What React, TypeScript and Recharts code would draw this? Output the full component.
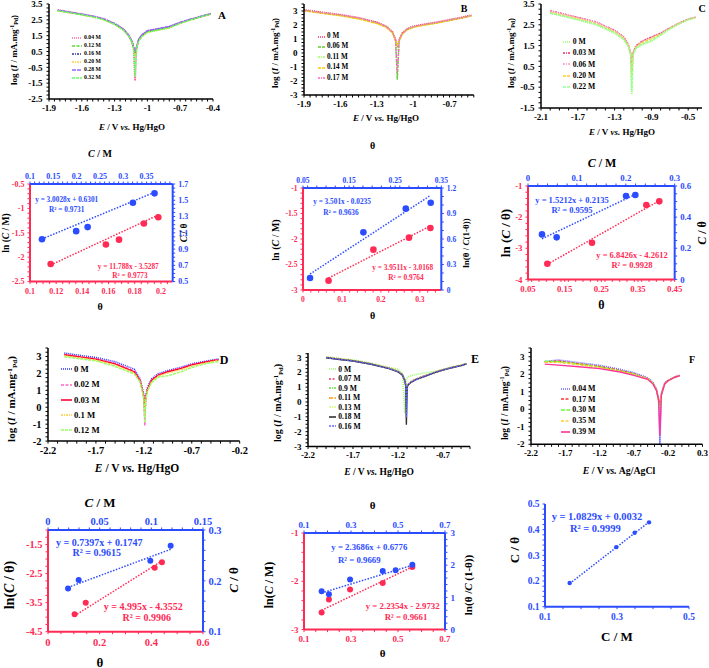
import React from 'react';
import { LineChart, Line, XAxis, YAxis } from 'recharts';

const serif = '"Liberation Serif", "Times New Roman", serif';
const RED = '#ff2b55';
const BLUE = '#2b4cff';

// ---------- Tafel plots (log I vs E) ----------
const tafA_E = [-1.82, -1.7, -1.6, -1.5, -1.4, -1.3, -1.22, -1.17, -1.14, -1.125, -1.113, -1.1, -1.08, -1.05, -1.0, -0.9, -0.8, -0.7, -0.6, -0.5, -0.42];
const tafA_004 = [3.12, 2.98, 2.86, 2.73, 2.56, 2.26, 1.91, 1.52, 1.12, 0.72, -1.35, 0.75, 1.25, 1.55, 1.8, 1.93, 2.06, 2.33, 2.54, 2.73, 2.88];
const tafA_012 = [3.08, 2.95, 2.83, 2.7, 2.52, 2.22, 1.87, 1.48, 1.08, 0.68, 0.3, 0.7, 1.18, 1.48, 1.74, 1.88, 2.02, 2.3, 2.52, 2.72, 2.86];
const tafA_016 = [3.1, 2.96, 2.85, 2.72, 2.55, 2.25, 1.9, 1.5, 1.1, 0.7, 0.45, 0.72, 1.22, 1.52, 1.78, 1.92, 2.05, 2.32, 2.53, 2.72, 2.87];
const tafA_020 = [3.06, 2.93, 2.81, 2.68, 2.5, 2.2, 1.85, 1.46, 1.06, 0.66, 0.2, 0.66, 1.15, 1.45, 1.7, 1.84, 1.98, 2.27, 2.5, 2.7, 2.85];
const tafA_028 = [3.11, 2.97, 2.86, 2.73, 2.57, 2.27, 1.92, 1.53, 1.13, 0.74, 0.6, 0.76, 1.26, 1.56, 1.82, 1.95, 2.08, 2.34, 2.55, 2.74, 2.89];
const tafA_032 = [3.07, 2.94, 2.82, 2.69, 2.51, 2.21, 1.86, 1.47, 1.07, 0.67, -1.1, 0.68, 1.16, 1.46, 1.72, 1.86, 2.0, 2.28, 2.51, 2.71, 2.86];

const tafB_E = [-1.9, -1.75, -1.6, -1.45, -1.3, -1.22, -1.17, -1.145, -1.131, -1.115, -1.09, -1.05, -1.0, -0.9, -0.8, -0.7, -0.6, -0.52];
const tafB_0 = [3.08, 2.9, 2.74, 2.52, 2.2, 1.9, 1.5, 0.95, 0.4, 0.95, 1.42, 1.72, 1.9, 2.07, 2.21, 2.38, 2.54, 2.7];
const tafB_006 = [3.05, 2.86, 2.7, 2.47, 2.15, 1.86, 1.46, 0.9, -1.9, 0.9, 1.38, 1.68, 1.86, 2.03, 2.17, 2.35, 2.51, 2.67];
const tafB_011 = [3.04, 2.85, 2.68, 2.45, 2.13, 1.84, 1.44, 0.88, 0.2, 0.88, 1.36, 1.66, 1.84, 2.01, 2.15, 2.33, 2.5, 2.66];
const tafB_014 = [3.02, 2.83, 2.66, 2.43, 2.11, 1.82, 1.42, 0.86, 0.6, 0.86, 1.34, 1.64, 1.83, 2.0, 2.14, 2.32, 2.49, 2.65];
const tafB_017 = [3.06, 2.88, 2.72, 2.5, 2.18, 1.88, 1.48, 0.92, -1.4, 0.92, 1.4, 1.7, 1.88, 2.05, 2.19, 2.36, 2.52, 2.68];

const tafC_E = [-2.0, -1.85, -1.7, -1.5, -1.3, -1.2, -1.15, -1.125, -1.114, -1.1, -1.07, -1.0, -0.9, -0.8, -0.7, -0.6, -0.5, -0.42];
const tafC_0 = [3.05, 2.9, 2.74, 2.5, 2.1, 1.78, 1.45, 1.05, -0.85, 1.05, 1.35, 1.55, 1.7, 2.0, 2.3, 2.55, 2.75, 2.85];
const tafC_003 = [3.18, 3.02, 2.86, 2.64, 2.24, 1.92, 1.55, 1.15, 0.3, 1.15, 1.48, 1.72, 1.92, 2.1, 2.35, 2.58, 2.77, 2.87];
const tafC_006 = [3.15, 3.0, 2.84, 2.62, 2.22, 1.9, 1.53, 1.12, 0.5, 1.12, 1.46, 1.7, 1.9, 2.09, 2.34, 2.57, 2.76, 2.86];
const tafC_020 = [3.1, 2.95, 2.79, 2.56, 2.16, 1.84, 1.49, 1.08, 0.1, 1.08, 1.42, 1.64, 1.84, 2.05, 2.32, 2.56, 2.75, 2.85];
const tafC_022 = [3.07, 2.92, 2.76, 2.53, 2.13, 1.81, 1.47, 1.06, -0.7, 1.06, 1.38, 1.58, 1.76, 2.02, 2.31, 2.55, 2.75, 2.85];

const tafD_E = [-2.03, -1.85, -1.7, -1.5, -1.3, -1.24, -1.215, -1.2, -1.19, -1.18, -1.16, -1.12, -1.05, -0.95, -0.81, -0.7, -0.57, -0.47, -0.42];
const tafD_0 = [3.2, 3.05, 2.94, 2.69, 2.25, 1.7, 1.1, 0.7, -0.6, 0.7, 1.2, 1.68, 1.98, 2.17, 2.37, 2.57, 2.7, 2.81, 2.85];
const tafD_002 = [3.12, 2.98, 2.87, 2.6, 2.15, 1.62, 1.02, 0.62, -1.1, 0.62, 1.12, 1.6, 1.92, 2.12, 2.33, 2.53, 2.67, 2.78, 2.82];
const tafD_003 = [3.1, 2.96, 2.84, 2.56, 2.1, 1.58, 0.98, 0.58, 0.0, 0.58, 1.08, 1.58, 1.9, 2.1, 2.3, 2.5, 2.66, 2.77, 2.8];
const tafD_01 = [3.05, 2.9, 2.78, 2.48, 2.02, 1.52, 0.92, 0.52, -0.5, 0.52, 1.02, 1.5, 1.84, 2.02, 2.22, 2.42, 2.6, 2.72, 2.76];
const tafD_012 = [2.98, 2.85, 2.74, 2.41, 1.96, 1.5, 0.9, 0.5, -0.9, 0.5, 0.98, 1.45, 1.78, 1.86, 2.09, 2.35, 2.55, 2.66, 2.69];

const tafE_E = [-2.0, -1.85, -1.7, -1.5, -1.3, -1.2, -1.15, -1.125, -1.115, -1.107, -1.098, -1.085, -1.05, -1.0, -0.9, -0.8, -0.7, -0.6, -0.5, -0.44];
const tafE_0 = [3.05, 2.93, 2.84, 2.62, 2.33, 2.21, 1.95, -0.75, 1.2, 1.5, 1.62, 1.7, 1.78, 1.85, 1.96, 2.05, 2.2, 2.36, 2.49, 2.6];
const tafE_007 = [3.02, 2.9, 2.8, 2.58, 2.29, 2.08, 1.85, 1.5, 1.2, 0.3, 1.1, 1.22, 1.4, 1.56, 1.78, 2.0, 2.18, 2.34, 2.47, 2.58];
const tafE_09 = [3.0, 2.88, 2.78, 2.56, 2.27, 2.06, 1.83, 1.48, 1.18, 0.1, 1.08, 1.2, 1.38, 1.54, 1.76, 1.98, 2.17, 2.33, 2.46, 2.57];
const tafE_011 = [3.0, 2.88, 2.78, 2.56, 2.27, 2.05, 1.82, 1.46, 1.16, 0.4, 1.06, 1.18, 1.36, 1.52, 1.74, 1.97, 2.16, 2.32, 2.46, 2.57];
const tafE_013 = [3.01, 2.89, 2.79, 2.57, 2.28, 2.06, 1.83, 1.47, 1.17, 0.2, 1.07, 1.19, 1.37, 1.53, 1.75, 1.98, 2.17, 2.33, 2.46, 2.57];
const tafE_018 = [2.98, 2.86, 2.76, 2.54, 2.25, 2.03, 1.8, 1.44, 1.14, -1.54, 1.04, 1.16, 1.34, 1.5, 1.73, 1.96, 2.15, 2.31, 2.45, 2.56];
const tafE_016 = [2.99, 2.87, 2.77, 2.55, 2.26, 2.04, 1.81, 1.45, 1.15, -1.05, 1.05, 1.17, 1.35, 1.51, 1.74, 1.97, 2.16, 2.32, 2.45, 2.56];

const tafF_E = [-2.0, -1.8, -1.5, -1.2, -0.9, -0.7, -0.5, -0.42, -0.37, -0.34, -0.321, -0.3, -0.25, -0.2, -0.1, -0.03];
const tafF_004 = [2.72, 2.82, 2.66, 2.51, 2.28, 2.09, 1.8, 1.52, 1.14, 0.6, -2.0, 0.9, 1.5, 1.67, 1.86, 1.95];
const tafF_017 = [2.7, 2.76, 2.6, 2.45, 2.22, 2.03, 1.76, 1.48, 1.1, 0.55, 0.3, 0.85, 1.48, 1.65, 1.85, 1.94];
const tafF_030 = [2.74, 2.72, 2.58, 2.42, 2.2, 2.01, 1.75, 1.47, 1.09, 0.54, 0.0, 0.84, 1.47, 1.64, 1.84, 1.93];
const tafF_035 = [2.68, 2.68, 2.54, 2.38, 2.17, 1.98, 1.73, 1.46, 1.08, 0.53, 0.5, 0.83, 1.46, 1.64, 1.84, 1.93];
const tafF_039 = [2.58, 2.52, 2.43, 2.32, 2.13, 1.94, 1.71, 1.44, 1.06, 0.52, -1.5, 0.82, 1.45, 1.63, 1.83, 1.92];

// ---------- isotherm fits ----------
const isoA_redX = [0.1158, 0.158, 0.168, 0.187, 0.198];
const isoA_redY = [-2.14, -1.74, -1.64, -1.31, -1.18];
const isoA_blueX = [0.1257, 0.199, 0.2236, 0.3207, 0.367];
const isoA_blueY = [1.02, 1.12, 1.17, 1.47, 1.585];
const isoA_redFitX = [0.1158, 0.198];
const isoA_redFitY = [-2.16, -1.135];
const isoA_blueFitX = [0.1257, 0.367];
const isoA_blueFitY = [1.024, 1.598];

const isoB_redX = [0.0656, 0.1807, 0.272, 0.327];
const isoB_redY = [-2.817, -2.209, -1.974, -1.784];
const isoB_blueX = [0.0653, 0.181, 0.273, 0.327];
const isoB_blueY = [0.141, 0.678, 0.957, 1.027];
const isoB_redFitX = [0.0656, 0.327];
const isoB_redFitY = [-2.765, -1.745];
const isoB_blueFitX = [0.0653, 0.327];
const isoB_blueFitY = [0.188, 1.114];

const isoC_redX = [0.1027, 0.2245, 0.3727, 0.408];
const isoC_redY = [-3.496, -2.821, -1.611, -1.493];
const isoC_blueX = [0.0286, 0.0586, 0.2005, 0.2195];
const isoC_blueY = [0.289, 0.27, 0.536, 0.542];
const isoC_redFitX = [0.1027, 0.408];
const isoC_redFitY = [-3.518, -1.471];
const isoC_blueFitX = [0.0286, 0.2195];
const isoC_blueFitY = [0.261, 0.546];

const isoD_redX = [0.103, 0.146, 0.413, 0.441];
const isoD_redY = [-3.903, -3.502, -2.297, -2.113];
const isoD_blueX = [0.0194, 0.0297, 0.099, 0.1187];
const isoD_blueY = [0.185, 0.2016, 0.2397, 0.269];
const isoD_redFitX = [0.103, 0.441];
const isoD_redFitY = [-3.95, -2.067];
const isoD_blueFitX = [0.0194, 0.1187];
const isoD_blueFitY = [0.187, 0.262];

const isoE_redX = [0.175, 0.206, 0.296, 0.435, 0.561];
const isoE_redY = [-2.648, -2.379, -2.172, -2.034, -1.703];
const isoE_blueX = [0.175, 0.206, 0.296, 0.435, 0.49, 0.561];
const isoE_blueY = [1.19, 1.097, 1.552, 1.821, 1.841, 2.017];
const isoE_redFitX = [0.175, 0.561];
const isoE_redFitY = [-2.6, -1.703];
const isoE_blueFitX = [0.175, 0.561];
const isoE_blueFitY = [1.138, 1.997];

const isoF_X = [0.1685, 0.298, 0.349, 0.389];
const isoF_Y = [0.192, 0.332, 0.388, 0.4286];
const isoF_fitX = [0.1685, 0.389];
const isoF_fitY = [0.19, 0.43];

type Series = { name: string; vals: number[]; color: string; dash?: string; width?: number };
type Box = { x0: number; y0: number; x1: number; y1: number };
type Ax = { domain: [number, number]; ticks: number[]; minor?: number };

const pts = (xs: number[], ys: number[]) => xs.map((x, i) => ({ x, y: ys[i] }));

// major ticks get a label, minor ones are only small marks on the axis
const axisTicks = (ax: Ax) => {
  const all = [...ax.ticks];
  if (ax.minor) {
    const s = ax.minor;
    for (let v = Math.ceil(ax.domain[0] / s - 1e-9) * s; v <= ax.domain[1] + 1e-9; v += s) {
      const r = +v.toFixed(6);
      if (!all.some((m) => Math.abs(m - r) < 1e-7)) all.push(r);
    }
  }
  return all.sort((a, b) => a - b);
};
const majorFmt = (ax: Ax) => (v: number) => (ax.ticks.some((m) => Math.abs(m - v) < 1e-7) ? String(v) : '');

const Txt = ({ x, y, size, color = '#000', rot = false, children }: any) => (
  <div
    style={{
      position: 'absolute', left: x, top: y,
      transform: `translate(-50%, -50%)${rot ? ' rotate(-90deg)' : ''}`,
      whiteSpace: 'nowrap', fontFamily: serif, fontWeight: 700, fontSize: size, color, lineHeight: 1,
    }}
  >
    {children}
  </div>
);

const LogLabel = () => (
  <>
    log (<i>I</i> / mA.mg<span style={{ fontSize: '0.65em', verticalAlign: '0.5em' }}>-1</span>
    <span style={{ fontSize: '0.65em', verticalAlign: '-0.3em' }}>Pd</span>)
  </>
);

const ELabel = ({ refEl = 'Hg/HgO' }: any) => (
  <>
    <i>E</i> / V <i>vs.</i> {refEl}
  </>
);

const LegendBox = ({ x, y, gap, size, len, items }: any) => (
  <div style={{ position: 'absolute', left: x, top: y - gap / 2, fontFamily: serif, fontWeight: 700, fontSize: size, lineHeight: 1 }}>
    {items.map((s: Series) => (
      <div key={s.name} style={{ height: gap, display: 'flex', alignItems: 'center' }}>
        <svg width={len} height={4} style={{ marginRight: 2 }}>
          <line x1={0} y1={2} x2={len} y2={2} stroke={s.color} strokeWidth={1.6} strokeDasharray={s.dash} />
        </svg>
        <span>{s.name}</span>
      </div>
    ))}
  </div>
);

const TafelPanel = ({ box, E, series, xAx, yAx, font }: { box: Box; E: number[]; series: Series[]; xAx: Ax; yAx: Ax; font: number }) => {
  const data = E.map((e, i) => {
    const row: any = { E: e };
    series.forEach((s, j) => (row['s' + j] = s.vals[i]));
    return row;
  });
  const padL = 34, padR = 8, padT = 6, padB = 22;
  const tk = { fontSize: font, fill: '#000', fontWeight: 700, fontFamily: serif };
  return (
    <div style={{ position: 'absolute', left: box.x0 - padL, top: box.y0 - padT }}>
      <LineChart width={box.x1 - box.x0 + padL + padR} height={box.y1 - box.y0 + padT + padB} data={data}
        margin={{ top: padT, right: padR, left: 0, bottom: 0 }}>
        <XAxis dataKey="E" type="number" domain={xAx.domain} ticks={axisTicks(xAx)} tickFormatter={majorFmt(xAx)} interval={0}
          height={padB} allowDataOverflow axisLine={{ stroke: '#000', strokeWidth: 1.5 }} tickLine={{ stroke: '#000' }}
          tickSize={2.5} tickMargin={3} tick={tk} />
        <YAxis type="number" domain={yAx.domain} ticks={axisTicks(yAx)} tickFormatter={majorFmt(yAx)} interval={0} width={padL}
          allowDataOverflow axisLine={{ stroke: '#000', strokeWidth: 1.5 }} tickLine={{ stroke: '#000' }}
          tickSize={2.5} tickMargin={4} tick={tk} />
        {series.map((s, j) => (
          <Line key={s.name} dataKey={'s' + j} stroke={s.color} strokeDasharray={s.dash} strokeWidth={s.width ?? 1.4}
            dot={false} isAnimationActive={false} />
        ))}
      </LineChart>
    </div>
  );
};

const IsoPanel = (p: any) => {
  const dual = !!p.top;
  const padL = 30, padR = dual ? 28 : 8, padT = dual ? 16 : 6, padB = 20;
  const lc = dual ? RED : BLUE;
  const tk = (c: string) => ({ fontSize: p.font, fill: c, fontWeight: 700, fontFamily: serif });
  const axl = (c: string) => ({ stroke: c, strokeWidth: 2 });
  return (
    <div style={{ position: 'absolute', left: p.box.x0 - padL, top: p.box.y0 - padT }}>
      <LineChart width={p.box.x1 - p.box.x0 + padL + padR} height={p.box.y1 - p.box.y0 + padT + padB}
        margin={{ top: dual ? 0 : padT, right: dual ? 0 : padR, left: 0, bottom: 0 }}>
        <XAxis xAxisId="b" dataKey="x" type="number" domain={p.bottom.domain} ticks={axisTicks(p.bottom)} tickFormatter={majorFmt(p.bottom)}
          interval={0} height={padB} allowDataOverflow axisLine={axl(lc)} tickLine={{ stroke: lc }} tickSize={2.5} tickMargin={4} tick={tk(lc)} />
        <YAxis yAxisId="l" type="number" domain={p.left.domain} ticks={axisTicks(p.left)} tickFormatter={majorFmt(p.left)}
          interval={0} width={padL} allowDataOverflow axisLine={axl(lc)} tickLine={{ stroke: lc }} tickSize={2.5} tickMargin={3} tick={tk(lc)} />
        {dual && (
          <XAxis xAxisId="t" orientation="top" dataKey="x" type="number" domain={p.top.domain} ticks={axisTicks(p.top)} tickFormatter={majorFmt(p.top)}
            interval={0} height={padT} allowDataOverflow axisLine={axl(BLUE)} tickLine={{ stroke: BLUE }} tickSize={2.5} tickMargin={2} tick={tk(BLUE)} />
        )}
        {dual && (
          <YAxis yAxisId="r" orientation="right" type="number" domain={p.right.domain} ticks={axisTicks(p.right)} tickFormatter={majorFmt(p.right)}
            interval={0} width={padR} allowDataOverflow axisLine={axl(BLUE)} tickLine={{ stroke: BLUE }} tickSize={2.5} tickMargin={3} tick={tk(BLUE)} />
        )}
        {dual && (
          <Line xAxisId="b" yAxisId="l" data={p.redFit} dataKey="y" stroke={RED} strokeWidth={1.5} strokeDasharray="1.5 1.5"
            dot={false} isAnimationActive={false} />
        )}
        {dual && (
          <Line xAxisId="b" yAxisId="l" data={p.red} dataKey="y" stroke="none" isAnimationActive={false}
            dot={{ r: p.r, fill: RED, stroke: RED, strokeWidth: 0 }} />
        )}
        <Line xAxisId={dual ? 't' : 'b'} yAxisId={dual ? 'r' : 'l'} data={p.blueFit} dataKey="y" stroke={BLUE} strokeWidth={1.5}
          strokeDasharray="1.5 1.5" dot={false} isAnimationActive={false} />
        <Line xAxisId={dual ? 't' : 'b'} yAxisId={dual ? 'r' : 'l'} data={p.blue} dataKey="y" stroke="none" isAnimationActive={false}
          dot={{ r: p.r, fill: BLUE, stroke: BLUE, strokeWidth: 0 }} />
      </LineChart>
    </div>
  );
};

const seriesA: Series[] = [
  { name: '0.04 M', vals: tafA_004, color: '#ff66a3', dash: '1 1', width: 2 },
  { name: '0.12 M', vals: tafA_012, color: '#55dd33', dash: '3 1.5' },
  { name: '0.16 M', vals: tafA_016, color: '#333399', dash: '2 1 1 1' },
  { name: '0.20 M', vals: tafA_020, color: '#ffcc33', dash: '2 1 1 1' },
  { name: '0.28 M', vals: tafA_028, color: '#9966ff', dash: '4 1' },
  { name: '0.32 M', vals: tafA_032, color: '#66ff66', dash: '3 1' },
];
const seriesB: Series[] = [
  { name: '0 M', vals: tafB_0, color: '#ff3366', dash: '1 1', width: 1.8 },
  { name: '0.06 M', vals: tafB_006, color: '#66cc33', dash: '3 1' },
  { name: '0.11 M', vals: tafB_011, color: '#99ff66', dash: '2 1 1 1' },
  { name: '0.14 M', vals: tafB_014, color: '#ffcc00', dash: '3 1' },
  { name: '0.17 M', vals: tafB_017, color: '#ff66cc', dash: '2 1 1 1' },
];
const seriesC: Series[] = [
  { name: '0 M', vals: tafC_0, color: '#99ff66', dash: '1 1', width: 1.8 },
  { name: '0.03 M', vals: tafC_003, color: '#e6336e', dash: '2 1 1 1' },
  { name: '0.06 M', vals: tafC_006, color: '#ff99cc', dash: '2 1 1 1' },
  { name: '0.20 M', vals: tafC_020, color: '#ffcc33', dash: '3 1' },
  { name: '0.22 M', vals: tafC_022, color: '#99ff99', dash: '3 1' },
];
const seriesD: Series[] = [
  { name: '0 M', vals: tafD_0, color: '#3333ff', dash: '1 1', width: 1.6 },
  { name: '0.02 M', vals: tafD_002, color: '#ff66cc', dash: '3 1.5' },
  { name: '0.03 M', vals: tafD_003, color: '#ff0033' },
  { name: '0.1 M', vals: tafD_01, color: '#ffcc33', dash: '2 1 1 1' },
  { name: '0.12 M', vals: tafD_012, color: '#99ff66', dash: '3 1' },
];
const seriesE: Series[] = [
  { name: '0 M', vals: tafE_0, color: '#99ff66', dash: '1 1', width: 1.6 },
  { name: '0.07 M', vals: tafE_007, color: '#ff3366', dash: '2 1.5' },
  { name: '0.9 M', vals: tafE_09, color: '#66dd44', dash: '2 1 1 1' },
  { name: '0.11 M', vals: tafE_011, color: '#ff9900', dash: '4 1.5' },
  { name: '0.13 M', vals: tafE_013, color: '#ddff77', dash: '2 1 1 1' },
  { name: '0.18 M', vals: tafE_018, color: '#333333' },
  { name: '0.16 M', vals: tafE_016, color: '#6666ff', dash: '2 1' },
];
const seriesF: Series[] = [
  { name: '0.04 M', vals: tafF_004, color: '#6666ff', dash: '1 1', width: 1.6 },
  { name: '0.17 M', vals: tafF_017, color: '#ff3333', dash: '3 1.5' },
  { name: '0.30 M', vals: tafF_030, color: '#66ff33', dash: '4 1.5' },
  { name: '0.35 M', vals: tafF_035, color: '#ffcc33', dash: '3 1.5' },
  { name: '0.39 M', vals: tafF_039, color: '#ff3399' },
];

export default function App() {
  return (
    <div style={{ position: 'absolute', left: 0, top: 0, width: 709, height: 668, background: '#fff', overflow: 'hidden' }}>
      {/* Row 1: Tafel A, B, C */}
      <TafelPanel box={{ x0: 49, y0: 4, x1: 213, y1: 99 }} E={tafA_E} series={seriesA} font={9}
        xAx={{ domain: [-1.9, -0.4], ticks: [-1.9, -1.6, -1.3, -1, -0.7, -0.4], minor: 0.05 }}
        yAx={{ domain: [-2.5, 3.5], ticks: [-2.5, -1.5, -0.5, 0.5, 1.5, 2.5, 3.5], minor: 0.25 }} />
      <LegendBox x={72} y={38} gap={8} size={5.8} len={10} items={seriesA} />
      <Txt x={15} y={50} size={9} rot><LogLabel /></Txt>
      <Txt x={132} y={127} size={9}><ELabel /></Txt>
      <Txt x={222} y={15} size={11}>A</Txt>

      <TafelPanel box={{ x0: 303.7, y0: 4, x1: 473.5, y1: 95 }} E={tafB_E} series={seriesB} font={9}
        xAx={{ domain: [-1.9, -0.5], ticks: [-1.9, -1.6, -1.3, -1, -0.7], minor: 0.05 }}
        yAx={{ domain: [-3, 3.5], ticks: [-3, -2, -1, 0, 1, 2, 3], minor: 0.25 }} />
      <LegendBox x={318} y={36.7} gap={10.4} size={7.2} len={7} items={seriesB} />
      <Txt x={276} y={53} size={9} rot><LogLabel /></Txt>
      <Txt x={386} y={118} size={9}><ELabel /></Txt>
      <Txt x={464} y={9} size={10}>B</Txt>

      <TafelPanel box={{ x0: 541.3, y0: 4, x1: 702.3, y1: 108 }} E={tafC_E} series={seriesC} font={9}
        xAx={{ domain: [-2.1, -0.35], ticks: [-2.1, -1.7, -1.3, -0.9, -0.5], minor: 0.1 }}
        yAx={{ domain: [-1.5, 3.5], ticks: [-1.5, -0.5, 0.5, 1.5, 2.5, 3.5], minor: 0.25 }} />
      <LegendBox x={562.7} y={41.7} gap={11.4} size={7.7} len={8} items={seriesC} />
      <Txt x={512} y={53} size={9} rot><LogLabel /></Txt>
      <Txt x={622} y={132} size={9}><ELabel /></Txt>
      <Txt x={702} y={9} size={10}>C</Txt>

      {/* Row 2: isotherms A, B, C */}
      <IsoPanel box={{ x0: 30, y0: 183.7, x1: 172.7, y1: 281.3 }} font={8} r={3.3}
        bottom={{ domain: [0.1, 0.209], ticks: [0.1, 0.12, 0.14, 0.16, 0.18, 0.2], minor: 0.005 }}
        top={{ domain: [0.1, 0.406], ticks: [0.1, 0.15, 0.2, 0.25, 0.3, 0.35], minor: 0.01 }}
        left={{ domain: [-2.5, -0.5], ticks: [-2.5, -2, -1.5, -1, -0.5], minor: 0.1 }}
        right={{ domain: [0.5, 1.7], ticks: [0.5, 0.7, 0.9, 1.1, 1.3, 1.5, 1.7], minor: 0.05 }}
        red={pts(isoA_redX, isoA_redY)} redFit={pts(isoA_redFitX, isoA_redFitY)}
        blue={pts(isoA_blueX, isoA_blueY)} blueFit={pts(isoA_blueFitX, isoA_blueFitY)} />
      <Txt x={7.3} y={233} size={9.5} rot>ln (<i>C</i> / M)</Txt>
      <Txt x={185} y={233} size={9.5} rot><i>C</i> / θ</Txt>
      <Txt x={100} y={154} size={10}><i>C</i> / M</Txt>
      <Txt x={100} y={307} size={10}>θ</Txt>
      <Txt x={66.7} y={200.3} size={7.3} color={BLUE}>y = 3.0028x + 0.6301</Txt>
      <Txt x={66.7} y={210} size={7.3} color={BLUE}>R² = 0.9731</Txt>
      <Txt x={128.3} y={267.3} size={7.3} color={RED}>y = 11.788x - 3.5287</Txt>
      <Txt x={130} y={275.7} size={7.3} color={RED}>R² = 0.9773</Txt>

      <IsoPanel box={{ x0: 302.7, y0: 188, x1: 441, y1: 290 }} font={7.6} r={3.3}
        bottom={{ domain: [0, 0.355], ticks: [0, 0.1, 0.2, 0.3], minor: 0.02 }}
        top={{ domain: [0.05, 0.35], ticks: [0.05, 0.15, 0.25, 0.35], minor: 0.02 }}
        left={{ domain: [-3, -1], ticks: [-3, -2.5, -2, -1.5, -1], minor: 0.1 }}
        right={{ domain: [0, 1.2], ticks: [0, 0.3, 0.6, 0.9, 1.2], minor: 0.1 }}
        red={pts(isoB_redX, isoB_redY)} redFit={pts(isoB_redFitX, isoB_redFitY)}
        blue={pts(isoB_blueX, isoB_blueY)} blueFit={pts(isoB_blueFitX, isoB_blueFitY)} />
      <Txt x={276} y={239.7} size={10} rot>ln (<i>C</i> / M)</Txt>
      <Txt x={466} y={243} size={9} rot>ln(θ / <i>C</i>(1-θ))</Txt>
      <Txt x={372.7} y={146} size={10}>θ</Txt>
      <Txt x={372.7} y={316.3} size={10}>θ</Txt>
      <Txt x={342} y={202.3} size={7.3} color={BLUE}>y = 3.501x - 0.0235</Txt>
      <Txt x={341} y={213.3} size={7.3} color={BLUE}>R² = 0.9636</Txt>
      <Txt x={402.7} y={268} size={7.3} color={RED}>y = 3.9511x - 3.0168</Txt>
      <Txt x={406} y={278} size={7.3} color={RED}>R² = 0.9764</Txt>

      <IsoPanel box={{ x0: 528, y0: 186.3, x1: 674.7, y1: 279.7 }} font={8.8} r={3.3}
        bottom={{ domain: [0.05, 0.45], ticks: [0.05, 0.15, 0.25, 0.35, 0.45], minor: 0.02 }}
        top={{ domain: [0, 0.3], ticks: [0, 0.1, 0.2, 0.3], minor: 0.02 }}
        left={{ domain: [-4, -1], ticks: [-4, -3, -2, -1], minor: 0.2 }}
        right={{ domain: [0, 0.6], ticks: [0, 0.2, 0.4, 0.6], minor: 0.05 }}
        red={pts(isoC_redX, isoC_redY)} redFit={pts(isoC_redFitX, isoC_redFitY)}
        blue={pts(isoC_blueX, isoC_blueY)} blueFit={pts(isoC_blueFitX, isoC_blueFitY)} />
      <Txt x={505} y={233} size={13} rot>ln (<i>C</i> / θ)</Txt>
      <Txt x={702} y={233} size={12} rot><i>C</i> / θ</Txt>
      <Txt x={602} y={163} size={12}><i>C</i> / M</Txt>
      <Txt x={601.3} y={305} size={12}>θ</Txt>
      <Txt x={572} y={200.3} size={8.5} color={BLUE}>y = 1.5212x + 0.2135</Txt>
      <Txt x={572} y={210.3} size={8.5} color={BLUE}>R² = 0.9595</Txt>
      <Txt x={632} y={254.7} size={8.5} color={RED}>y = 6.8426x - 4.2612</Txt>
      <Txt x={632} y={264.7} size={8.5} color={RED}>R² = 0.9928</Txt>

      {/* Row 3: Tafel D, E, F */}
      <TafelPanel box={{ x0: 48.3, y0: 348.2, x1: 240, y1: 441.3 }} E={tafD_E} series={seriesD} font={10.5}
        xAx={{ domain: [-2.2, -0.2], ticks: [-2.2, -1.7, -1.2, -0.7, -0.2], minor: 0.1 }}
        yAx={{ domain: [-2, 3.5], ticks: [-2, -1, 0, 1, 2, 3], minor: 0.25 }} />
      <LegendBox x={61} y={369.3} gap={15.3} size={8.7} len={11} items={seriesD} />
      <Txt x={13} y={399} size={11} rot><LogLabel /></Txt>
      <Txt x={137} y={469} size={11.5}><ELabel /></Txt>
      <Txt x={224} y={360} size={12}>D</Txt>

      <TafelPanel box={{ x0: 307.7, y0: 352.5, x1: 469.7, y1: 446 }} E={tafE_E} series={seriesE} font={9}
        xAx={{ domain: [-2.2, -0.4], ticks: [-2.2, -1.7, -1.2, -0.7], minor: 0.1 }}
        yAx={{ domain: [-3, 3.3], ticks: [-3, -2, -1, 0, 1, 2, 3], minor: 0.25 }} />
      <LegendBox x={329.3} y={369.3} gap={9.5} size={7.6} len={7} items={seriesE} />
      <Txt x={279} y={403} size={10} rot><LogLabel /></Txt>
      <Txt x={379} y={473} size={9.5}><ELabel /></Txt>
      <Txt x={475} y={359} size={12}>E</Txt>

      <TafelPanel box={{ x0: 531.3, y0: 348, x1: 702.8, y1: 444.3 }} E={tafF_E} series={seriesF} font={9}
        xAx={{ domain: [-2.2, 0.3], ticks: [-2.2, -1.7, -1.2, -0.7, -0.2, 0.3], minor: 0.1 }}
        yAx={{ domain: [-2, 3.5], ticks: [-2, -1, 0, 1, 2, 3], minor: 0.25 }} />
      <LegendBox x={561.3} y={388.7} gap={10.8} size={7.9} len={9} items={seriesF} />
      <Txt x={505} y={403} size={9.5} rot><LogLabel /></Txt>
      <Txt x={619} y={471} size={9.8}><ELabel refEl="Ag/AgCl" /></Txt>
      <Txt x={692} y={360} size={10}>F</Txt>

      {/* Row 4: isotherms D, E, F */}
      <IsoPanel box={{ x0: 48.3, y0: 530, x1: 203.3, y1: 631.7 }} font={10.5} r={3}
        bottom={{ domain: [0, 0.6], ticks: [0, 0.2, 0.4, 0.6], minor: 0.05 }}
        top={{ domain: [0, 0.15], ticks: [0, 0.05, 0.1, 0.15], minor: 0.01 }}
        left={{ domain: [-4.5, -1], ticks: [-4.5, -3.5, -2.5, -1.5], minor: 0.25 }}
        right={{ domain: [0.1, 0.3], ticks: [0.1, 0.2, 0.3], minor: 0.02 }}
        red={pts(isoD_redX, isoD_redY)} redFit={pts(isoD_redFitX, isoD_redFitY)}
        blue={pts(isoD_blueX, isoD_blueY)} blueFit={pts(isoD_blueFitX, isoD_blueFitY)} />
      <Txt x={10} y={585} size={14} rot>ln(<i>C</i> / θ)</Txt>
      <Txt x={233} y={580} size={13} rot><i>C</i> / θ</Txt>
      <Txt x={100} y={502} size={13}><i>C</i> / M</Txt>
      <Txt x={100} y={661.7} size={13}>θ</Txt>
      <Txt x={99.3} y={543.3} size={10} color={BLUE}>y = 0.7397x + 0.1747</Txt>
      <Txt x={96.7} y={553.3} size={10} color={BLUE}>R² = 0.9615</Txt>
      <Txt x={143.3} y={606.7} size={10} color={RED}>y = 4.995x - 4.3552</Txt>
      <Txt x={146.7} y={617.7} size={10} color={RED}>R² = 0.9906</Txt>

      <IsoPanel box={{ x0: 304.3, y0: 532.7, x1: 445.3, y1: 629.3 }} font={9} r={3}
        bottom={{ domain: [0.1, 0.7], ticks: [0.1, 0.3, 0.5, 0.7], minor: 0.05 }}
        top={{ domain: [0.1, 0.7], ticks: [0.1, 0.3, 0.5, 0.7], minor: 0.05 }}
        left={{ domain: [-3, -1], ticks: [-3, -2, -1], minor: 0.2 }}
        right={{ domain: [0, 3], ticks: [0, 1, 2, 3], minor: 0.2 }}
        red={pts(isoE_redX, isoE_redY)} redFit={pts(isoE_redFitX, isoE_redFitY)}
        blue={pts(isoE_blueX, isoE_blueY)} blueFit={pts(isoE_blueFitX, isoE_blueFitY)} />
      <Txt x={269.3} y={585} size={12} rot>ln(<i>C</i> / M)</Txt>
      <Txt x={467.7} y={585} size={11} rot>ln(θ /<i>C</i> (1-θ))</Txt>
      <Txt x={372.7} y={505} size={11}>θ</Txt>
      <Txt x={382.7} y={652.5} size={11}>θ</Txt>
      <Txt x={369.3} y={546.7} size={8.8} color={BLUE}>y = 2.3686x + 0.6776</Txt>
      <Txt x={359.3} y={560} size={8.8} color={BLUE}>R² = 0.9669</Txt>
      <Txt x={402.7} y={606} size={8.8} color={RED}>y = 2.2354x - 2.9732</Txt>
      <Txt x={406} y={616.7} size={8.8} color={RED}>R² = 0.9661</Txt>

      <IsoPanel box={{ x0: 544.7, y0: 504, x1: 688.7, y1: 606.7 }} font={9.5} r={2.2}
        bottom={{ domain: [0.1, 0.5], ticks: [0.1, 0.3, 0.5], minor: 0.05 }}
        left={{ domain: [0.1, 0.5], ticks: [0.1, 0.2, 0.3, 0.4, 0.5], minor: 0.02 }}
        blue={pts(isoF_X, isoF_Y)} blueFit={pts(isoF_fitX, isoF_fitY)} />
      <Txt x={513.7} y={550} size={13} rot>C / θ</Txt>
      <Txt x={617} y={636} size={13}>C / M</Txt>
      <Txt x={597} y={516.7} size={10.5} color={BLUE}>y = 1.0829x + 0.0032</Txt>
      <Txt x={595.3} y={529.3} size={10.5} color={BLUE}>R² = 0.9999</Txt>
    </div>
  );
}
